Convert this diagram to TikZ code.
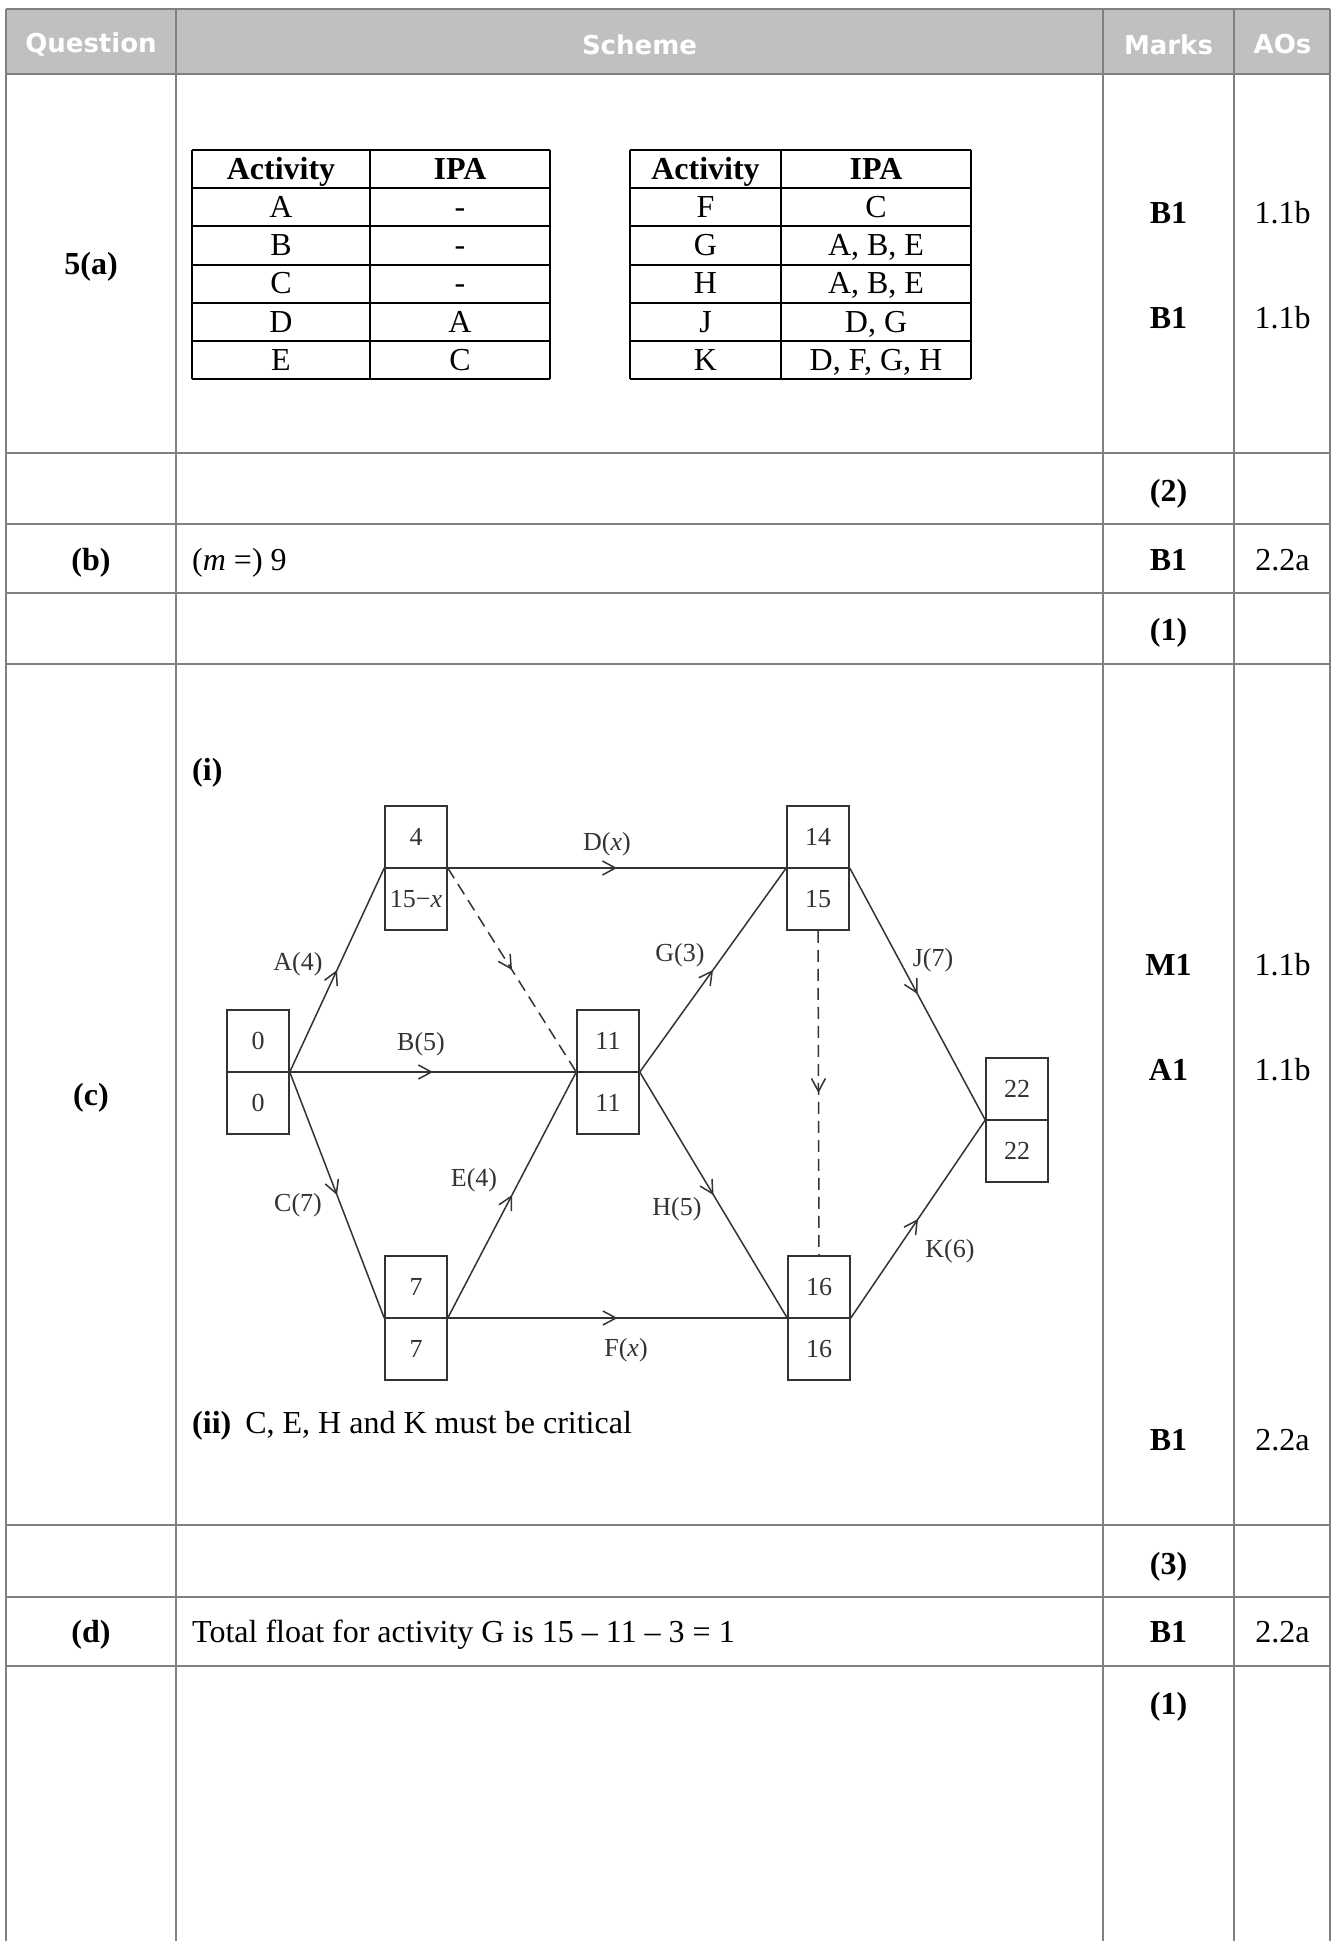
\documentclass[tikz,border=0pt]{standalone}
\usepackage{fontspec}
\setmainfont{Liberation Serif}
\newfontfamily\hdrfont{DejaVu Sans}
\usetikzlibrary{arrows.meta,decorations.markings}
\definecolor{gridgray}{HTML}{808080}
\definecolor{hdrfill}{HTML}{C0C0C0}
\definecolor{net}{HTML}{333333}
\tikzset{
  grid/.style={draw=gridgray, line width=2.5pt},
  hdr/.style={font=\hdrfont\bfseries\fontsize{26}{30}\selectfont, text=white, inner sep=0pt},
  body/.style={font=\fontsize{32}{36}\selectfont, inner sep=0pt, text height=25pt, text depth=4pt},
  bodyb/.style={body, font=\bfseries\fontsize{32}{36}\selectfont},
  tline/.style={draw=black, line width=2pt},
  ev/.style={draw=net, line width=1.5pt, minimum width=62pt, minimum height=124pt, inner sep=0pt},
  midline/.style={draw=net, line width=1.5pt},
  nettxt/.style={font=\fontsize{26}{30}\selectfont, text=net, inner sep=0pt, text height=19pt, text depth=3pt},
  act/.style={draw=net, line width=1.5pt, postaction={decorate},
    decoration={markings, mark=at position 0.5 with {\arrow{Straight Barb[length=13pt,width=14pt,line width=1.5pt]}}}},
  dummy/.style={dash pattern=on 12pt off 7pt}
}
\begin{document}
\begin{tikzpicture}[x=1pt,y=-1pt]
\useasboundingbox (0,0) rectangle (1336,1941);
\fill[white] (0,0) rectangle (1336,1941);
% header
\fill[hdrfill] (6,9) rectangle (1330,74);
\foreach \yy in {9,74,453,524,593,664,1525,1597,1666}
  \draw[grid] (6,\yy) -- (1330,\yy);
\foreach \xx in {6,176,1103,1234,1330}
  \draw[grid] (\xx,9) -- (\xx,1941);
\node[hdr] (hq) at (91,44.5) {Question};
\node[hdr] (hs) at (639.5,44.5) {Scheme};
\node[hdr] (hm) at (1168.5,44.5) {Marks};
\node[hdr] (ha) at (1282.5,44.5) {AOs};
% question column
\node[bodyb] (q5a) at (91,264) {5(a)};
\node[bodyb] (qb) at (91,560) {(b)};
\node[bodyb] (qc) at (91,1095) {(c)};
\node[bodyb] (qd) at (91,1632) {(d)};
% marks
\node[bodyb] (m1) at (1168.5,213) {B1};
\node[bodyb] (m2) at (1168.5,318) {B1};
\node[bodyb] (m3) at (1168.5,491) {(2)};
\node[bodyb] (m4) at (1168.5,560) {B1};
\node[bodyb] (m5) at (1168.5,630) {(1)};
\node[bodyb] (m6) at (1168.5,965) {M1};
\node[bodyb] (m7) at (1168.5,1070) {A1};
\node[bodyb] (m8) at (1168.5,1440) {B1};
\node[bodyb] (m9) at (1168.5,1564) {(3)};
\node[bodyb] (m10) at (1168.5,1632) {B1};
\node[bodyb] (m11) at (1168.5,1704) {(1)};
% AOs
\node[body] (a1) at (1282.5,213) {1.1b};
\node[body] (a2) at (1282.5,318) {1.1b};
\node[body] (a3) at (1282.5,560) {2.2a};
\node[body] (a4) at (1282.5,965) {1.1b};
\node[body] (a5) at (1282.5,1070) {1.1b};
\node[body] (a6) at (1282.5,1440) {2.2a};
\node[body] (a7) at (1282.5,1632) {2.2a};
% scheme texts
\node[body, anchor=west] (sb) at (192,560) {(\textit{m} =) 9};
\node[bodyb, anchor=west] (si) at (192,770) {(i)};
\node[body, anchor=west] (sii) at (192,1423) {\textbf{(ii)}\hspace{14pt}C, E, H and K must be critical};
\node[body, anchor=west] (sd) at (192,1632) {Total float for activity G is 15 – 11 – 3 = 1};
% IPA tables
\foreach \yy in {150,188.2,226.3,264.5,302.6,340.8,379} {
  \draw[tline] (192,\yy) -- (550,\yy);
  \draw[tline] (630,\yy) -- (971,\yy);
}
\foreach \xx in {192,370,550,630,781,971}
  \draw[tline] (\xx,150) -- (\xx,379);
\node[bodyb] (t1h1) at (281,169) {Activity};
\node[bodyb] (t1h2) at (460,169) {IPA};
\node[bodyb] (t2h1) at (705.5,169) {Activity};
\node[bodyb] (t2h2) at (876,169) {IPA};
\foreach \act/\ipa [count=\i] in {A/-,B/-,C/-,D/A,E/C}
  \node[body] (t1a\i) at (281,169+38.15*\i) {\act};
\foreach \act/\ipa [count=\i] in {A/-,B/-,C/-,D/A,E/C}
  \node[body] (t1b\i) at (460,169+38.15*\i) {\ipa};
\foreach \act [count=\i] in {F,G,H,J,K}
  \node[body] (t2a\i) at (705.5,169+38.15*\i) {\act};
\foreach \ipa [count=\i] in {C,{A, B, E},{A, B, E},{D, G},{D, F, G, H}}
  \node[body] (t2b\i) at (876,169+38.15*\i) {\ipa};
% network events
\node[ev] (n0) at (258,1072) {};
\node[ev] (n4) at (416,868) {};
\node[ev] (n11) at (608,1072) {};
\node[ev] (n14) at (818,868) {};
\node[ev] (n7) at (416,1318) {};
\node[ev] (n16) at (819,1318) {};
\node[ev] (n22) at (1017,1120) {};
\foreach \n in {n0,n4,n11,n14,n7,n16,n22}
  \draw[midline] (\n.west) -- (\n.east);
\foreach \n/\e/\l in {n0/0/0, n4/4/{15−\textit{x}}, n11/11/11, n14/14/15, n7/7/7, n16/16/16, n22/22/22} {
  \node[nettxt] (\n e) at ([yshift=31pt]\n.center) {\e};
  \node[nettxt] (\n l) at ([yshift=-31pt]\n.center) {\l};
}
% activities
\draw[act] (n0.east) -- (n4.west);
\draw[act] (n0.east) -- (n11.west);
\draw[act] (n0.east) -- (n7.west);
\draw[act] (n4.east) -- (n14.west);
\draw[act,dummy] (n4.east) -- (n11.west);
\draw[act] (n7.east) -- (n11.west);
\draw[act] (n7.east) -- (n16.west);
\draw[act] (n11.east) -- (n14.west);
\draw[act] (n11.east) -- (n16.west);
\draw[act,dummy] (n14.south) -- (n16.north);
\draw[act] (n14.east) -- (n22.west);
\draw[act] (n16.east) -- (n22.west);
% activity labels
\node[nettxt] (lA) at (298,962) {A(4)};
\node[nettxt] (lB) at (421,1042) {B(5)};
\node[nettxt] (lC) at (298,1203) {C(7)};
\node[nettxt] (lD) at (607,842) {D(\textit{x})};
\node[nettxt] (lE) at (474,1178) {E(4)};
\node[nettxt] (lF) at (626,1348) {F(\textit{x})};
\node[nettxt] (lG) at (680,953) {G(3)};
\node[nettxt] (lH) at (677,1207) {H(5)};
\node[nettxt] (lJ) at (933,958) {J(7)};
\node[nettxt] (lK) at (950,1249) {K(6)};
\end{tikzpicture}
\end{document}
